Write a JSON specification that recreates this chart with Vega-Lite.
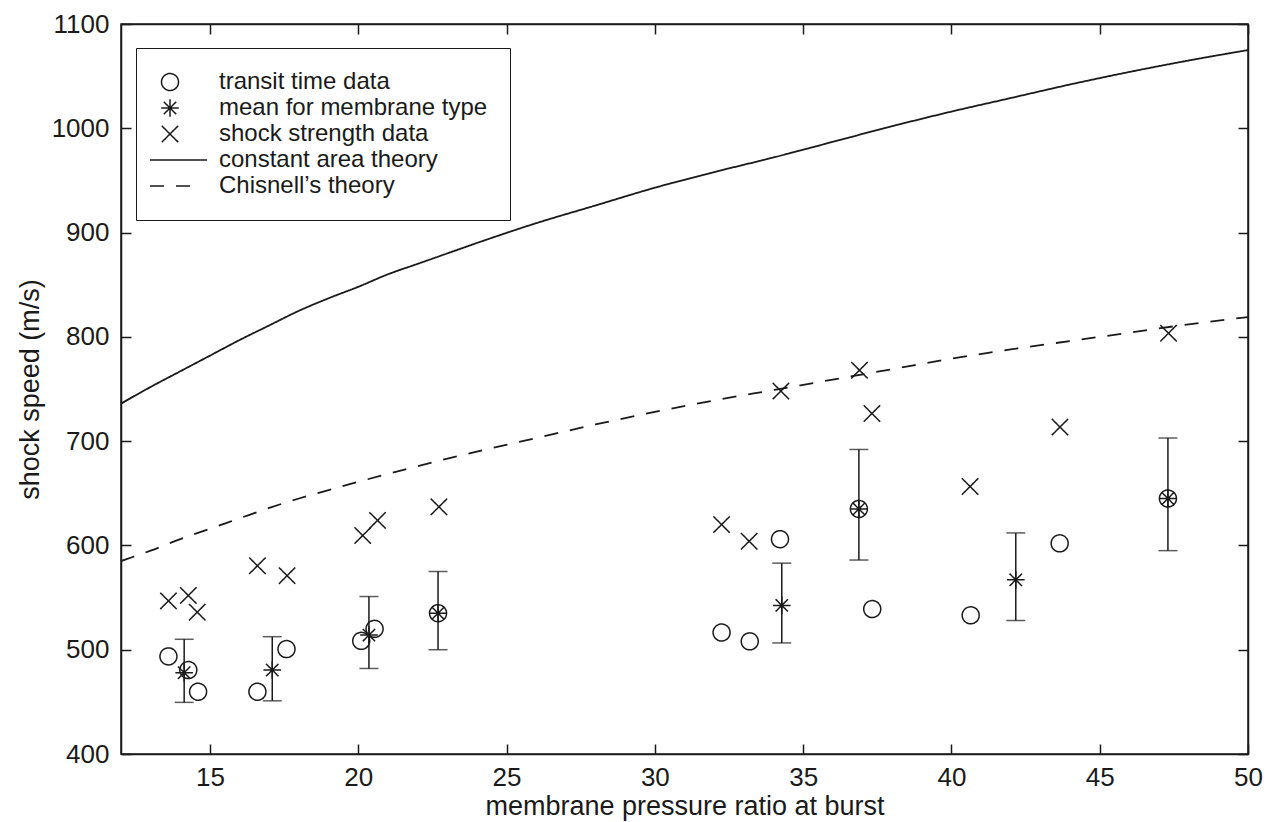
{
  "$schema": "https://vega.github.io/schema/vega-lite/v6.json",
  "width": 1127,
  "height": 730,
  "autosize": {"type": "none"},
  "padding": {"left": 121, "top": 24, "right": 23, "bottom": 68},
  "background": "white",
  "config": {
    "view": {"stroke": "#1a1a1a", "strokeWidth": 1.5},
    "font": "Liberation Sans",
    "axis": {
      "grid": false,
      "domainColor": "#1a1a1a",
      "domainWidth": 1.5,
      "tickColor": "#1a1a1a",
      "tickWidth": 1.5,
      "tickSize": -10,
      "labelColor": "#1a1a1a",
      "labelFont": "Liberation Sans",
      "labelFontSize": 26,
      "labelFlush": false,
      "labelOverlap": false,
      "titleFont": "Liberation Sans",
      "titleFontSize": 27,
      "titleFontWeight": "normal",
      "titleColor": "#1a1a1a"
    }
  },
  "datasets": {
    "theory": [
      {"ratio": 12, "speed": 736, "series": "constant area theory"},
      {"ratio": 13, "speed": 752, "series": "constant area theory"},
      {"ratio": 14, "speed": 767, "series": "constant area theory"},
      {"ratio": 15, "speed": 782, "series": "constant area theory"},
      {"ratio": 16, "speed": 797, "series": "constant area theory"},
      {"ratio": 17, "speed": 811, "series": "constant area theory"},
      {"ratio": 18, "speed": 825, "series": "constant area theory"},
      {"ratio": 19, "speed": 837, "series": "constant area theory"},
      {"ratio": 20, "speed": 848, "series": "constant area theory"},
      {"ratio": 21, "speed": 860, "series": "constant area theory"},
      {"ratio": 22, "speed": 870, "series": "constant area theory"},
      {"ratio": 23, "speed": 880, "series": "constant area theory"},
      {"ratio": 24, "speed": 890, "series": "constant area theory"},
      {"ratio": 26, "speed": 909, "series": "constant area theory"},
      {"ratio": 28, "speed": 926, "series": "constant area theory"},
      {"ratio": 30, "speed": 943, "series": "constant area theory"},
      {"ratio": 32, "speed": 958, "series": "constant area theory"},
      {"ratio": 34, "speed": 972, "series": "constant area theory"},
      {"ratio": 36, "speed": 987, "series": "constant area theory"},
      {"ratio": 38, "speed": 1002, "series": "constant area theory"},
      {"ratio": 40, "speed": 1016, "series": "constant area theory"},
      {"ratio": 42, "speed": 1029, "series": "constant area theory"},
      {"ratio": 44, "speed": 1042, "series": "constant area theory"},
      {"ratio": 46, "speed": 1054, "series": "constant area theory"},
      {"ratio": 48, "speed": 1065, "series": "constant area theory"},
      {"ratio": 50, "speed": 1075, "series": "constant area theory"},
      {"ratio": 12, "speed": 585, "series": "Chisnell’s theory"},
      {"ratio": 13, "speed": 595, "series": "Chisnell’s theory"},
      {"ratio": 14, "speed": 606, "series": "Chisnell’s theory"},
      {"ratio": 15, "speed": 616, "series": "Chisnell’s theory"},
      {"ratio": 16, "speed": 626, "series": "Chisnell’s theory"},
      {"ratio": 17, "speed": 636, "series": "Chisnell’s theory"},
      {"ratio": 18, "speed": 645, "series": "Chisnell’s theory"},
      {"ratio": 19, "speed": 653, "series": "Chisnell’s theory"},
      {"ratio": 20, "speed": 661, "series": "Chisnell’s theory"},
      {"ratio": 22, "speed": 676, "series": "Chisnell’s theory"},
      {"ratio": 24, "speed": 690, "series": "Chisnell’s theory"},
      {"ratio": 26, "speed": 703, "series": "Chisnell’s theory"},
      {"ratio": 28, "speed": 716, "series": "Chisnell’s theory"},
      {"ratio": 30, "speed": 728, "series": "Chisnell’s theory"},
      {"ratio": 32, "speed": 739, "series": "Chisnell’s theory"},
      {"ratio": 34, "speed": 749, "series": "Chisnell’s theory"},
      {"ratio": 36, "speed": 759, "series": "Chisnell’s theory"},
      {"ratio": 38, "speed": 769, "series": "Chisnell’s theory"},
      {"ratio": 40, "speed": 779, "series": "Chisnell’s theory"},
      {"ratio": 42, "speed": 788, "series": "Chisnell’s theory"},
      {"ratio": 44, "speed": 796, "series": "Chisnell’s theory"},
      {"ratio": 46, "speed": 804, "series": "Chisnell’s theory"},
      {"ratio": 48, "speed": 812, "series": "Chisnell’s theory"},
      {"ratio": 50, "speed": 819, "series": "Chisnell’s theory"}
    ],
    "obs": [
      {"ratio": 13.6, "speed": 493.6, "series": "transit time data"},
      {"ratio": 14.27, "speed": 480.5, "series": "transit time data"},
      {"ratio": 14.6, "speed": 459.7, "series": "transit time data"},
      {"ratio": 16.6, "speed": 459.7, "series": "transit time data"},
      {"ratio": 17.58, "speed": 500.6, "series": "transit time data"},
      {"ratio": 20.1, "speed": 508.5, "series": "transit time data"},
      {"ratio": 20.55, "speed": 520, "series": "transit time data"},
      {"ratio": 22.69, "speed": 535, "series": "transit time data"},
      {"ratio": 32.25, "speed": 516.5, "series": "transit time data"},
      {"ratio": 33.2, "speed": 508, "series": "transit time data"},
      {"ratio": 34.22, "speed": 606, "series": "transit time data"},
      {"ratio": 36.88, "speed": 635, "series": "transit time data"},
      {"ratio": 37.33, "speed": 539, "series": "transit time data"},
      {"ratio": 40.65, "speed": 533, "series": "transit time data"},
      {"ratio": 43.65, "speed": 602, "series": "transit time data"},
      {"ratio": 47.3, "speed": 645, "series": "transit time data"},
      {"ratio": 13.6, "speed": 546.8, "series": "shock strength data"},
      {"ratio": 14.27, "speed": 552, "series": "shock strength data"},
      {"ratio": 14.57, "speed": 536, "series": "shock strength data"},
      {"ratio": 16.6, "speed": 580.5, "series": "shock strength data"},
      {"ratio": 17.6, "speed": 571, "series": "shock strength data"},
      {"ratio": 20.15, "speed": 609.5, "series": "shock strength data"},
      {"ratio": 20.65, "speed": 624, "series": "shock strength data"},
      {"ratio": 22.72, "speed": 637, "series": "shock strength data"},
      {"ratio": 32.25, "speed": 620, "series": "shock strength data"},
      {"ratio": 33.18, "speed": 604, "series": "shock strength data"},
      {"ratio": 34.25, "speed": 748, "series": "shock strength data"},
      {"ratio": 36.9, "speed": 768, "series": "shock strength data"},
      {"ratio": 37.32, "speed": 726.5, "series": "shock strength data"},
      {"ratio": 40.63, "speed": 656.5, "series": "shock strength data"},
      {"ratio": 43.66, "speed": 713.5, "series": "shock strength data"},
      {"ratio": 47.32, "speed": 803.5, "series": "shock strength data"}
    ],
    "means": [
      {"ratio": 14.13, "speed": 478, "lo": 449.5, "hi": 510, "series": "mean for membrane type"},
      {"ratio": 17.1, "speed": 480.5, "lo": 451, "hi": 512.5, "series": "mean for membrane type"},
      {"ratio": 20.36, "speed": 514, "lo": 482, "hi": 551, "series": "mean for membrane type"},
      {"ratio": 22.69, "speed": 535, "lo": 500, "hi": 575, "series": "mean for membrane type"},
      {"ratio": 34.28, "speed": 542.5, "lo": 506.5, "hi": 583, "series": "mean for membrane type"},
      {"ratio": 36.88, "speed": 635, "lo": 586, "hi": 692, "series": "mean for membrane type"},
      {"ratio": 42.17, "speed": 567, "lo": 528, "hi": 612, "series": "mean for membrane type"},
      {"ratio": 47.3, "speed": 645, "lo": 595, "hi": 703, "series": "mean for membrane type"}
    ]
  },
  "layer": [
    {
      "data": {"name": "theory"},
      "mark": {"type": "line", "color": "#1a1a1a", "strokeWidth": 1.8, "interpolate": "monotone", "clip": true},
      "encoding": {
        "x": {
          "field": "ratio", "type": "quantitative",
          "scale": {"domain": [12, 50], "nice": false, "zero": false},
          "axis": {"orient": "bottom", "values": [15, 20, 25, 30, 35, 40, 45, 50], "title": "membrane pressure ratio at burst", "labelPadding": 20, "titlePadding": 3}
        },
        "y": {
          "field": "speed", "type": "quantitative",
          "scale": {"domain": [400, 1100], "nice": false, "zero": false},
          "axis": {"orient": "left", "format": "d", "values": [400, 500, 600, 700, 800, 900, 1000, 1100], "title": "shock speed (m/s)", "labelPadding": 22, "titlePadding": 7}
        },
        "strokeDash": {
          "field": "series", "type": "nominal",
          "scale": {
            "domain": ["transit time data", "mean for membrane type", "shock strength data", "constant area theory", "Chisnell’s theory"],
            "range": [[1, 0], [1, 0], [1, 0], [1, 0], [14, 12]]
          },
          "legend": {
            "title": null, "orient": "none", "legendX": 15, "legendY": 24,
            "symbolSize": 400, "symbolStrokeWidth": 1.5, "symbolStrokeColor": "#1a1a1a", "symbolFillColor": "transparent",
            "labelFont": "Liberation Sans", "labelFontSize": 24, "labelColor": "#1a1a1a", "labelOffset": 37, "labelLimit": 0,
            "strokeColor": "#1a1a1a", "fillColor": "white", "padding": 22, "rowPadding": 2
          }
        }
      }
    },
    {
      "data": {"name": "means"},
      "mark": {"type": "rule", "color": "#1a1a1a", "strokeWidth": 1.5},
      "encoding": {
        "x": {"field": "ratio", "type": "quantitative", "axis": {"orient": "top", "values": [15, 20, 25, 30, 35, 40, 45, 50], "labels": false, "title": null}},
        "y": {"field": "lo", "type": "quantitative", "axis": {"orient": "right", "values": [400, 500, 600, 700, 800, 900, 1000, 1100], "labels": false, "title": null}},
        "y2": {"field": "hi"}
      }
    },
    {
      "data": {"name": "means"},
      "mark": {"type": "tick", "orient": "horizontal", "color": "#1a1a1a", "size": 19, "thickness": 1.5},
      "encoding": {
        "x": {"field": "ratio", "type": "quantitative", "axis": null},
        "y": {"field": "lo", "type": "quantitative", "axis": null}
      }
    },
    {
      "data": {"name": "means"},
      "mark": {"type": "tick", "orient": "horizontal", "color": "#1a1a1a", "size": 19, "thickness": 1.5},
      "encoding": {
        "x": {"field": "ratio", "type": "quantitative", "axis": null},
        "y": {"field": "hi", "type": "quantitative", "axis": null}
      }
    },
    {
      "data": {"name": "obs"},
      "mark": {"type": "point", "filled": false, "color": "#1a1a1a", "strokeWidth": 1.5, "size": 400, "opacity": 1},
      "encoding": {
        "x": {"field": "ratio", "type": "quantitative", "axis": null},
        "y": {"field": "speed", "type": "quantitative", "axis": null},
        "shape": {
          "field": "series", "type": "nominal",
          "scale": {
            "domain": ["transit time data", "mean for membrane type", "shock strength data", "constant area theory", "Chisnell’s theory"],
            "range": [
              "M-0.85,0A0.85,0.85,0,1,1,0.85,0A0.85,0.85,0,1,1,-0.85,0Z",
              "M-0.88,0L0.88,0M0,-0.88L0,0.88M-0.62,-0.62L0.62,0.62M-0.62,0.62L0.62,-0.62",
              "M-0.82,-0.82L0.82,0.82M-0.82,0.82L0.82,-0.82",
              "M-2,0L3.7,0",
              "M-2,0L2.2,0"
            ]
          },
          "legend": {
            "title": null, "orient": "none", "legendX": 15, "legendY": 24,
            "symbolSize": 400, "symbolStrokeWidth": 1.5, "symbolStrokeColor": "#1a1a1a", "symbolFillColor": "transparent",
            "labelFont": "Liberation Sans", "labelFontSize": 24, "labelColor": "#1a1a1a", "labelOffset": 37, "labelLimit": 0,
            "strokeColor": "#1a1a1a", "fillColor": "white", "padding": 22, "rowPadding": 2
          }
        },
        "strokeDash": {"field": "series", "type": "nominal"}
      }
    },
    {
      "data": {"name": "means"},
      "mark": {"type": "point", "filled": false, "color": "#1a1a1a", "strokeWidth": 1.5, "size": 400, "opacity": 1},
      "encoding": {
        "x": {"field": "ratio", "type": "quantitative", "axis": null},
        "y": {"field": "speed", "type": "quantitative", "axis": null},
        "shape": {"field": "series", "type": "nominal"},
        "strokeDash": {"field": "series", "type": "nominal"}
      }
    }
  ],
  "resolve": {"axis": {"x": "independent", "y": "independent"}}
}
